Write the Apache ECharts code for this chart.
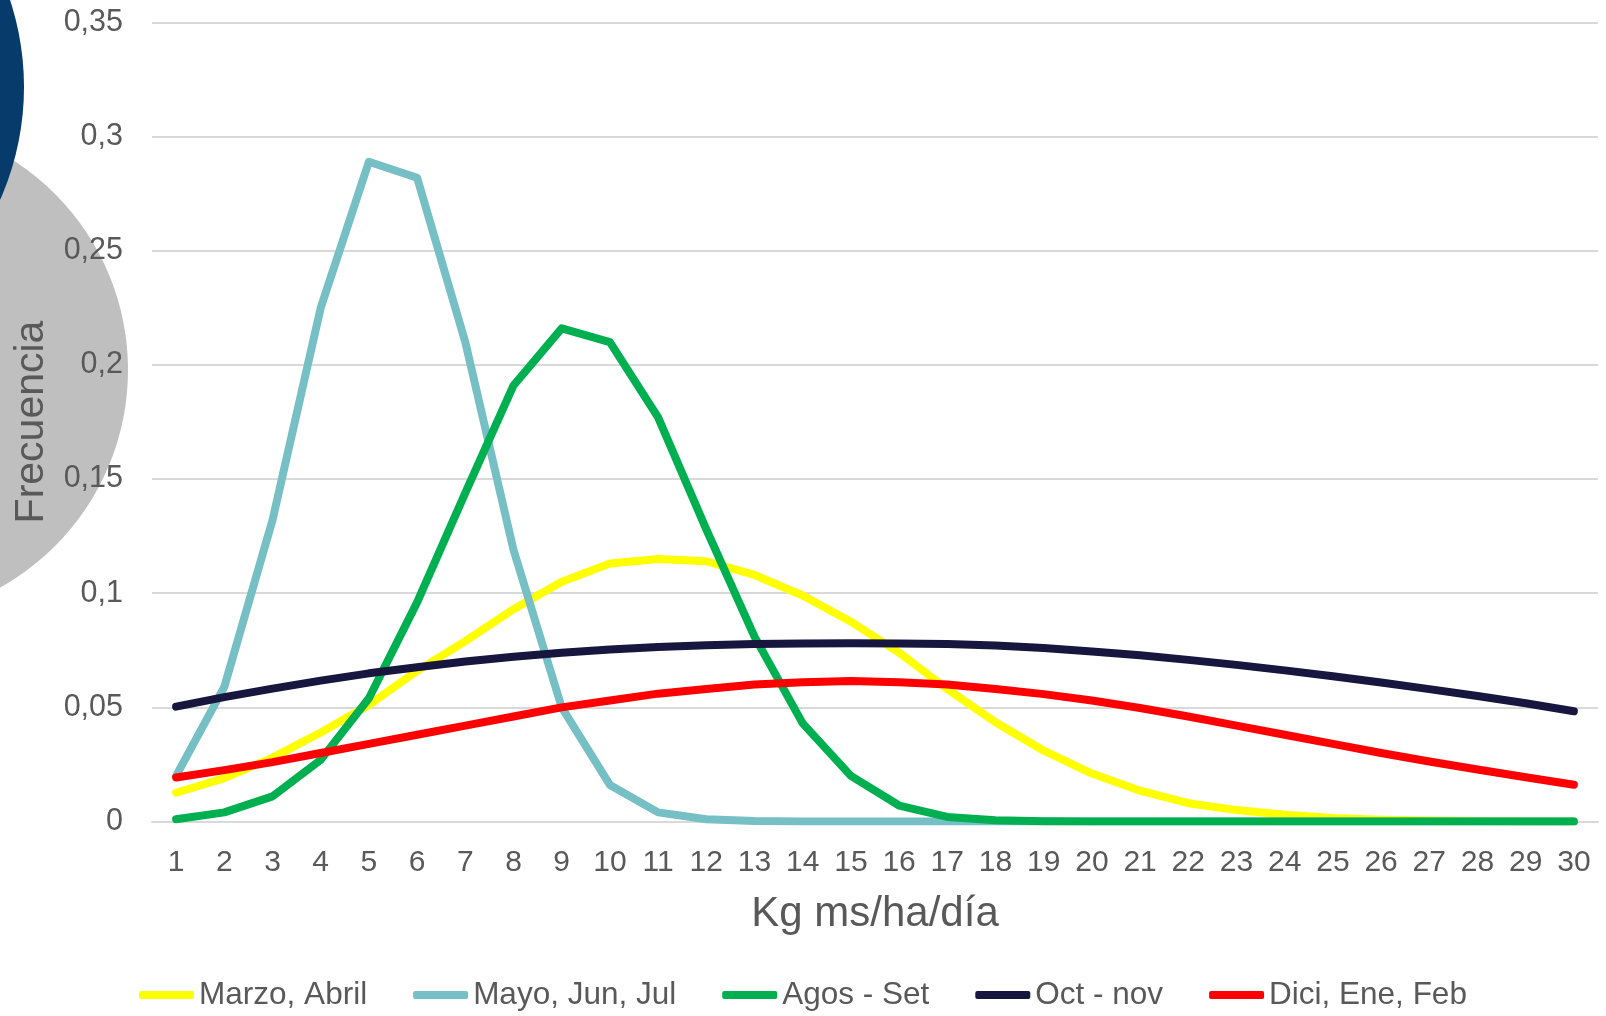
<!DOCTYPE html>
<html>
<head>
<meta charset="utf-8">
<script src="https://cdn.jsdelivr.net/npm/echarts@6/dist/echarts.min.js"></script>
<style>
html,body{margin:0;padding:0;background:#fff;}
#chart{width:1606px;height:1016px;}
</style>
</head>
<body>
<div id="chart"></div>
<script>
const categories = ['1','2','3','4','5','6','7','8','9','10','11','12','13','14','15','16','17','18','19','20','21','22','23','24','25','26','27','28','29','30'];
const seriesNames = ['Marzo, Abril','Mayo, Jun, Jul','Agos - Set','Oct - nov','Dici, Ene, Feb'];
const marzoAbril = [0.0126,0.019,0.028,0.039,0.051,0.066,0.079,0.093,0.105,0.113,0.115,0.114,0.108,0.099,0.0875,0.074,0.058,0.0435,0.031,0.021,0.0135,0.008,0.005,0.003,0.0015,0.0008,0.0004,0.0002,0.0001,0.0];
const mayoJunJul = [0.020,0.059,0.132,0.225,0.289,0.282,0.210,0.119,0.050,0.016,0.004,0.001,0.0002,0,0,0,0,0,0,0,0,0,0,0,0,0,0,0,0,0];
const agosSet = [0.001,0.004,0.011,0.027,0.054,0.096,0.144,0.191,0.216,0.210,0.177,0.128,0.081,0.043,0.020,0.007,0.002,0.0005,0.0001,0,0,0,0,0,0,0,0,0,0,0];
const octNov = [0.0503,0.0545,0.0582,0.0617,0.0649,0.0676,0.0701,0.0722,0.0739,0.0753,0.0764,0.0772,0.0777,0.0780,0.0781,0.0780,0.0777,0.0771,0.0760,0.0745,0.0728,0.0708,0.0686,0.0662,0.0636,0.0609,0.0580,0.0550,0.0518,0.0483];
const diciEneFeb = [0.0193,0.0225,0.026,0.030,0.034,0.038,0.042,0.046,0.050,0.053,0.056,0.058,0.060,0.061,0.0615,0.061,0.060,0.058,0.0558,0.053,0.0497,0.046,0.042,0.038,0.034,0.030,0.0263,0.0228,0.0194,0.0161];
const seriesColors = ['#FFFF00','#75BFC5','#00B050','#16163F','#FF0000'];
const yTicks = [0,0.05,0.1,0.15,0.2,0.25,0.3,0.35];

const allData = [marzoAbril, mayoJunJul, agosSet, octNov, diciEneFeb];
const FONT = "'Liberation Sans', Arial, sans-serif";
const chart = echarts.init(document.getElementById('chart'), null, {renderer:'canvas'});
chart.setOption({
  animation: false,
  backgroundColor: '#ffffff',
  textStyle: {fontFamily: FONT},
  graphic: [
    {type:'circle', shape:{cx:-121, cy:370, r:249}, style:{fill:'#BFBFBF'}, z:-10, silent:true},
    {type:'circle', shape:{cx:-254, cy:87, r:278}, style:{fill:'#063B6C'}, z:-9, silent:true}
  ],
  grid: {left:152, top:22.5, width:1446, height:799, containLabel:false},
  legend: {
    bottom: 0, left: 'center',
    icon: 'roundRect', itemWidth: 55, itemHeight: 8, itemGap: 46,
    data: seriesNames,
    textStyle: {fontSize: 31.5, color:'#595959', fontFamily: FONT}
  },
  xAxis: {
    type: 'category', data: categories, boundaryGap: true,
    name: 'Kg ms/ha/día', nameLocation: 'middle', nameGap: 72,
    nameTextStyle: {fontSize: 42, color:'#595959', fontFamily: FONT},
    axisLine: {show:true, lineStyle:{color:'#D9D9D9', width:2}},
    axisTick: {show:false},
    axisLabel: {fontSize: 30, color:'#595959', margin: 26, interval: 0, fontFamily: FONT}
  },
  yAxis: {
    type: 'value', min: 0, max: 0.35, interval: 0.05,
    name: 'Frecuencia', nameLocation: 'middle', nameGap: 100,
    nameTextStyle: {fontSize: 41, color:'#595959', fontFamily: FONT},
    axisLine: {show:false}, axisTick: {show:false},
    splitLine: {lineStyle:{color:'#D9D9D9', width:2}},
    axisLabel: {fontSize: 30.5, color:'#595959', margin: 29, fontFamily: FONT,
      formatter: v => yTicks.includes(+v.toFixed(2)) ? String(+v.toFixed(2)).replace('.', ',') : ''}
  },
  series: seriesNames.map((n, i) => ({
    name: n, type: 'line', data: allData[i], symbol: 'none', smooth: false,
    color: seriesColors[i],
    lineStyle: {width: 8, color: seriesColors[i], cap: 'round', join: 'round'}
  }))
});
</script>
</body>
</html>
